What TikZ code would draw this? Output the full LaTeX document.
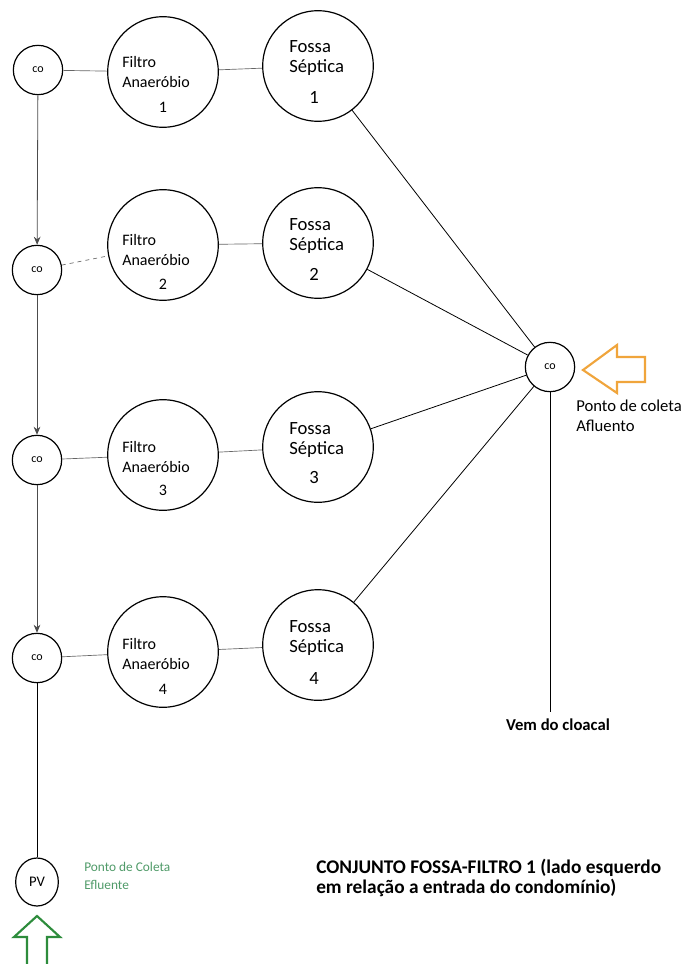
\documentclass[tikz,border=0pt]{standalone}
\usepackage{fontspec}
\setmainfont{Carlito}
\usetikzlibrary{shapes.geometric,arrows.meta}
\definecolor{setalaranja}{RGB}{240,165,60}
\definecolor{verdecoleta}{RGB}{80,155,105}
\definecolor{setaverde}{RGB}{45,140,60}

\begin{document}
\begin{tikzpicture}[x=0.75pt,y=-0.75pt,
  caixa/.style={draw,circle,minimum size=37pt,inner sep=0pt,line width=0.9pt,font=\fontsize{9}{9}\selectfont},
  tanque/.style={draw,circle,minimum size=83pt,inner sep=0pt,line width=0.9pt},
  texto/.style={inner sep=0pt,align=left,font=\fontsize{12}{15}\selectfont},
  fossa/.style={texto,font=\fontsize{14}{15}\selectfont},
  liga/.style={draw=black!60,line width=0.5pt},
  desce/.style={draw=black!70,line width=0.6pt,-{Stealth[length=6pt,width=5pt]}}]
\fill[white] (0,0) rectangle (697,964);
\useasboundingbox (0,0) rectangle (697,964);
%
% linha 1
\node[caixa] (c1) at (38,70) {co};
\node[tanque] (f1) at (163,72) {};
\node[tanque] (s1) at (318,66) {};
\node[texto,anchor=west] (f1t) at (122,72) {Filtro\\Anaeróbio};
\node[texto] (f1n) at (163,107) {1};
\node[fossa,anchor=west] (s1t) at (289,58) {Fossa\\Séptica};
\node[fossa] (s1n) at (314,97) {1};
%
% linha 2
\node[caixa] (c2) at (37,270) {co};
\node[tanque] (f2) at (163,245) {};
\node[tanque] (s2) at (318,243) {};
\node[texto,anchor=west] (f2t) at (122,250) {Filtro\\Anaeróbio};
\node[texto] (f2n) at (163,284) {2};
\node[fossa,anchor=west] (s2t) at (289,236) {Fossa\\Séptica};
\node[fossa] (s2n) at (314,274) {2};
%
% linha 3
\node[caixa] (c3) at (37,460) {co};
\node[tanque] (f3) at (163,455) {};
\node[tanque] (s3) at (318,447) {};
\node[texto,anchor=west] (f3t) at (122,457) {Filtro\\Anaeróbio};
\node[texto] (f3n) at (163,490) {3};
\node[fossa,anchor=west] (s3t) at (289,440) {Fossa\\Séptica};
\node[fossa] (s3n) at (314,478) {3};
%
% linha 4
\node[caixa] (c4) at (37,658) {co};
\node[tanque] (f4) at (163,652) {};
\node[tanque] (s4) at (318,645) {};
\node[texto,anchor=west] (f4t) at (122,654) {Filtro\\Anaeróbio};
\node[texto] (f4n) at (163,689) {4};
\node[fossa,anchor=west] (s4t) at (289,638) {Fossa\\Séptica};
\node[fossa] (s4n) at (314,678) {4};
%
\draw[liga] (c1) -- (f1);
\draw[liga,dashed] (c2) -- (f2);
\draw[liga] (c3) -- (f3);
\draw[liga] (c4) -- (f4);
\draw[liga] (f1) -- (s1);
\draw[liga] (f2) -- (s2);
\draw[liga] (f3) -- (s3);
\draw[liga] (f4) -- (s4);
\draw[desce] (c1) -- (c2);
\draw[desce] (c2) -- (c3);
\draw[desce] (c3) -- (c4);
%
% coleta afluente
\node[caixa] (col) at (550,367) {co};
\draw[line width=0.6pt] (s1) -- (col);
\draw[line width=0.6pt] (s2) -- (col);
\draw[line width=0.6pt] (s3) -- (col);
\draw[line width=0.6pt] (s4) -- (col);
\coordinate (cl) at (550,712);
\draw[line width=0.6pt] (col) -- (cl);
\node[texto,anchor=north,font=\fontsize{12.5}{15}\bfseries] (vem) at (558,719) {Vem do cloacal};
\draw[setalaranja,line width=1.6pt,line join=miter] (583,370) -- (617,345) -- (617,357) -- (645,357) -- (645,382) -- (617,382) -- (617,393) -- cycle;
\node[texto,anchor=north west,font=\fontsize{12.5}{15}\selectfont] (afl) at (576,400) {Ponto de coleta\\Afluento};
%
% coleta efluente
\node[draw,ellipse,minimum width=32pt,minimum height=36pt,inner sep=0pt,line width=0.9pt,font=\fontsize{11}{11}\selectfont] (pv) at (37,882) {PV};
\draw[line width=0.6pt] (c4) -- (pv);
\node[texto,anchor=west,text=verdecoleta,font=\fontsize{10}{13}\selectfont] (efl) at (84,876) {Ponto de Coleta\\Efluente};
\draw[setaverde,line width=1.6pt,line join=miter] (37,916) -- (60,937) -- (47,937) -- (47,968) -- (27,968) -- (27,937) -- (14,937) -- cycle;
\node[texto,anchor=west,font=\fontsize{14.5}{15}\bfseries] (conj) at (316,878) {CONJUNTO FOSSA-FILTRO 1 (lado esquerdo\\em relação a entrada do condomínio)};
\end{tikzpicture}
\end{document}
